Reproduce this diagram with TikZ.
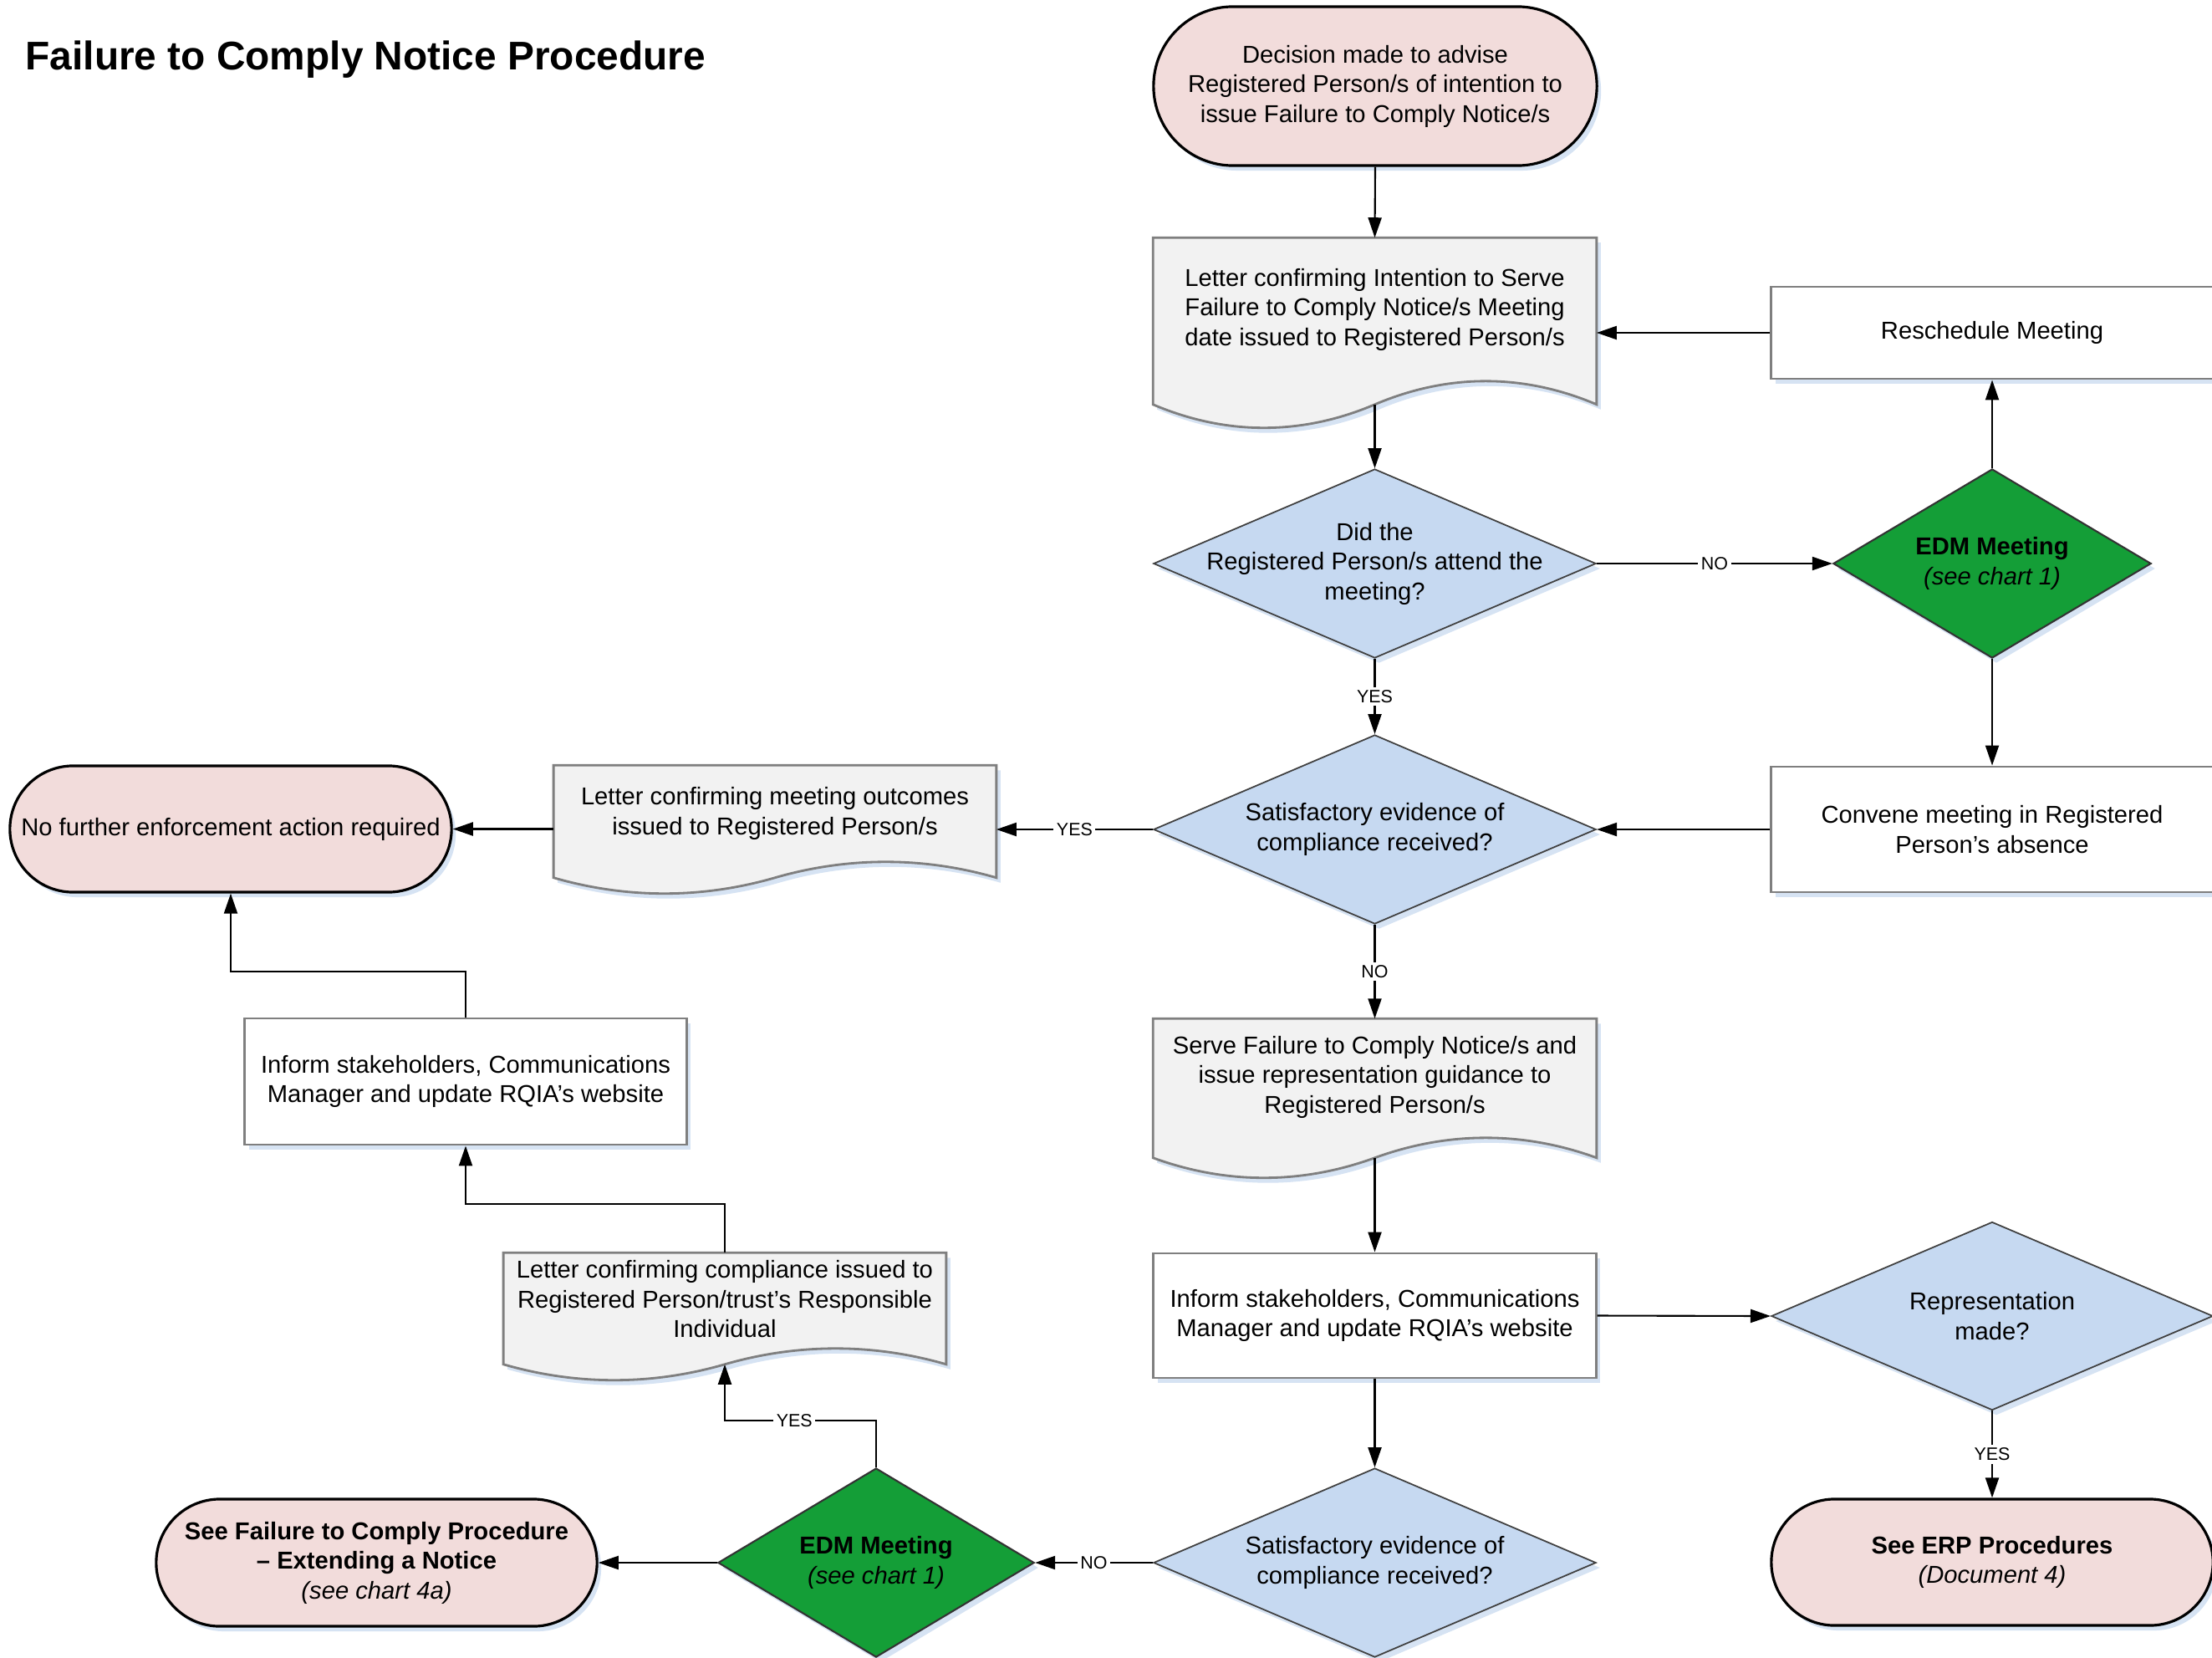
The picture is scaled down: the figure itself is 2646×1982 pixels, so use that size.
\documentclass[tikz,border=0pt]{standalone}
\usepackage{fontspec}
\setmainfont{Liberation Sans}
\usetikzlibrary{shapes.geometric,arrows.meta,calc,shadows}
\definecolor{pinkc}{HTML}{F2DCDB}
\definecolor{bluec}{HTML}{C6D9F1}
\definecolor{greenc}{HTML}{149E37}
\definecolor{docc}{HTML}{F2F2F2}
\definecolor{shadowc}{HTML}{D6E3F3}
\definecolor{grayc}{HTML}{7F7F7F}
\newcommand\bodyfont{\fontsize{8.3}{10.1}\selectfont}
\newcommand\lblfont{\fontsize{6.1}{6.5}\selectfont}
\newcommand\docpath[2]{(#1.north west) -- (#1.north east) -- (#1.south east)
  .. controls ($(#1.south east)!0.33!(#1.south)+(0,{-1.33*#2})$) and ($(#1.south east)!0.67!(#1.south)+(0,{-1.33*#2})$) .. (#1.south)
  .. controls ($(#1.south)!0.33!(#1.south west)+(0,{1.33*#2})$) and ($(#1.south)!0.67!(#1.south west)+(0,{1.33*#2})$) .. (#1.south west) -- cycle}
\newcommand\docshape[2]{%
  \begin{scope}[transform canvas={shift={(0.05cm,-0.06cm)}}]
    \fill[shadowc] \docpath{#1}{#2};
  \end{scope}
  \filldraw[fill=docc, draw=grayc, line width=0.8pt] \docpath{#1}{#2};
}
\begin{document}
\begin{tikzpicture}[x=0.01cm,y=-0.01cm,
  shadowed/.style={drop shadow={shadow xshift=0.05cm,shadow yshift=-0.06cm,fill=shadowc,opacity=1}},
  arr/.style={draw=black, line width=0.6pt, -{Triangle[length=0.24cm,width=0.16cm]}},
  base/.style={inner sep=0pt, align=center, font=\bodyfont},
  term/.style={base, draw=black, line width=0.9pt, fill=pinkc, shadowed},
  proc/.style={base, draw=grayc, line width=0.8pt, fill=white, shadowed},
  dec/.style={base, diamond, draw=black!75, line width=0.5pt, fill=bluec, shadowed},
  edm/.style={base, diamond, draw=black!80, line width=0.6pt, fill=greenc, shadowed},
  lbl/.style={font=\lblfont, fill=white, inner sep=1pt},
  txt/.style={base},
  hold/.style={draw=none, inner sep=0pt}
]
\useasboundingbox (0,0) rectangle (2646,1982);
\fill[white] (0,0) rectangle (2646,1982);

\node[anchor=base west, inner sep=0pt, font=\fontsize{13.6}{15}\selectfont\bfseries] (title) at (30,84) {Failure to Comply Notice Procedure};

% start
\node[term, minimum width=5.30cm, minimum height=1.90cm, rounded corners=0.95cm] (start) at (1645,103)
  {Decision made to advise\\Registered Person/s of intention to\\issue Failure to Comply Notice/s};

% letter 1
\node[hold, minimum width=5.29cm, minimum height=1.98cm] (l1) at (1644.5,384) {};
\docshape{l1}{28}
\node[txt] (l1t) at ([yshift=0.14cm]l1.center) {Letter confirming Intention to Serve\\Failure to Comply Notice/s Meeting\\date issued to Registered Person/s};

% reschedule
\node[proc, minimum width=5.28cm, minimum height=1.10cm] (resch) at (2383,398) {Reschedule Meeting};

% decision 1
\node[dec, minimum width=5.29cm, minimum height=2.26cm,
  label={[txt]center:Did the\\Registered Person/s attend the\\meeting?}] (d1) at (1644.5,674) {};

% EDM 1
\node[edm, minimum width=3.80cm, minimum height=2.26cm,
  label={[txt]center:\textbf{EDM Meeting}\\\textit{(see chart 1)}}] (edm1) at (2383,674) {};

% decision 2
\node[dec, minimum width=5.29cm, minimum height=2.26cm,
  label={[txt]center:Satisfactory evidence of\\compliance received?}] (d2) at (1644.5,992) {};

% convene
\node[proc, minimum width=5.28cm, minimum height=1.50cm] (conv) at (2383,992) {Convene meeting in Registered\\Person’s absence};

% letter outcomes
\node[hold, minimum width=5.28cm, minimum height=1.33cm] (out) at (927,982.5) {};
\docshape{out}{19}
\node[txt] (outt) at ([yshift=0.095cm]out.center) {Letter confirming meeting outcomes\\issued to Registered Person/s};

% no further
\node[term, minimum width=5.28cm, minimum height=1.51cm, rounded corners=0.755cm] (nof) at (276,991.5) {No further enforcement action required};

% inform left
\node[proc, minimum width=5.28cm, minimum height=1.51cm] (infl) at (557,1293.5) {Inform stakeholders, Communications\\Manager and update RQIA’s website};

% serve
\node[hold, minimum width=5.29cm, minimum height=1.65cm] (serve) at (1644.5,1301.5) {};
\docshape{serve}{24}
\node[txt] (servet) at ([yshift=0.135cm]serve.center) {Serve Failure to Comply Notice/s and\\issue representation guidance to\\Registered Person/s};

% inform middle
\node[proc, minimum width=5.29cm, minimum height=1.49cm] (infm) at (1644.5,1573.5) {Inform stakeholders, Communications\\Manager and update RQIA’s website};

% representation
\node[dec, minimum width=5.28cm, minimum height=2.25cm,
  label={[txt]center:Representation\\made?}] (rep) at (2383,1574) {};

% ERP
\node[term, minimum width=5.28cm, minimum height=1.51cm, rounded corners=0.755cm] (erp) at (2383,1868.5) {\textbf{See ERP Procedures}\\\textit{(Document 4)}};

% decision 3
\node[dec, minimum width=5.29cm, minimum height=2.26cm,
  label={[txt]center:Satisfactory evidence of\\compliance received?}] (d3) at (1644.5,1869) {};

% EDM 2
\node[edm, minimum width=3.78cm, minimum height=2.26cm,
  label={[txt]center:\textbf{EDM Meeting}\\\textit{(see chart 1)}}] (edm2) at (1048,1869) {};

% FTC extending
\node[term, minimum width=5.27cm, minimum height=1.52cm, rounded corners=0.76cm] (ftc) at (450.5,1869)
  {\textbf{See Failure to Comply Procedure}\\\textbf{– Extending a Notice}\\\textit{(see chart 4a)}};

% letter compliance
\node[hold, minimum width=5.28cm, minimum height=1.32cm] (comp) at (867,1565) {};
\docshape{comp}{19}
\node[txt] (compt) at ([yshift=0.11cm]comp.center) {Letter confirming compliance issued to\\Registered Person/trust’s Responsible\\Individual};

% connectors
\draw[arr] (start.south) -- (l1.north);
\draw[arr] (l1.south) -- (d1.north);
\draw[arr] (resch.west) -- (resch.west -| l1.east);
\draw[arr] (d1.east) -- node[lbl] {NO} (edm1.west);
\draw[arr] (edm1.north) -- (resch.south);
\draw[arr] (edm1.south) -- (conv.north);
\draw[arr] (conv.west) -- (d2.east);
\draw[arr] (d1.south) -- node[lbl] {YES} (d2.north);
\draw[arr] (d2.west) -- node[lbl] {YES} (d2.west -| out.east);
\draw[arr] (out.west |- nof.east) -- (nof.east);
\draw[arr] (d2.south) -- node[lbl] {NO} (serve.north);
\draw[arr] (serve.south) -- (infm.north);
\draw[arr] (infm.east) -- (rep.west);
\draw[arr] (rep.south) -- node[lbl] {YES} (erp.north);
\draw[arr] (infm.south) -- (d3.north);
\draw[arr] (d3.west) -- node[lbl] {NO} (edm2.east);
\draw[arr] (edm2.west) -- (ftc.east);
\draw[arr] (edm2.north) -- ++(0,-56) -| node[lbl, pos=0.27] {YES} (comp.south);
\draw[arr] (comp.north) -- ++(0,-58) -| (infl.south);
\draw[arr] (infl.north) -- ++(0,-55) -| (nof.south);
\end{tikzpicture}
\end{document}
